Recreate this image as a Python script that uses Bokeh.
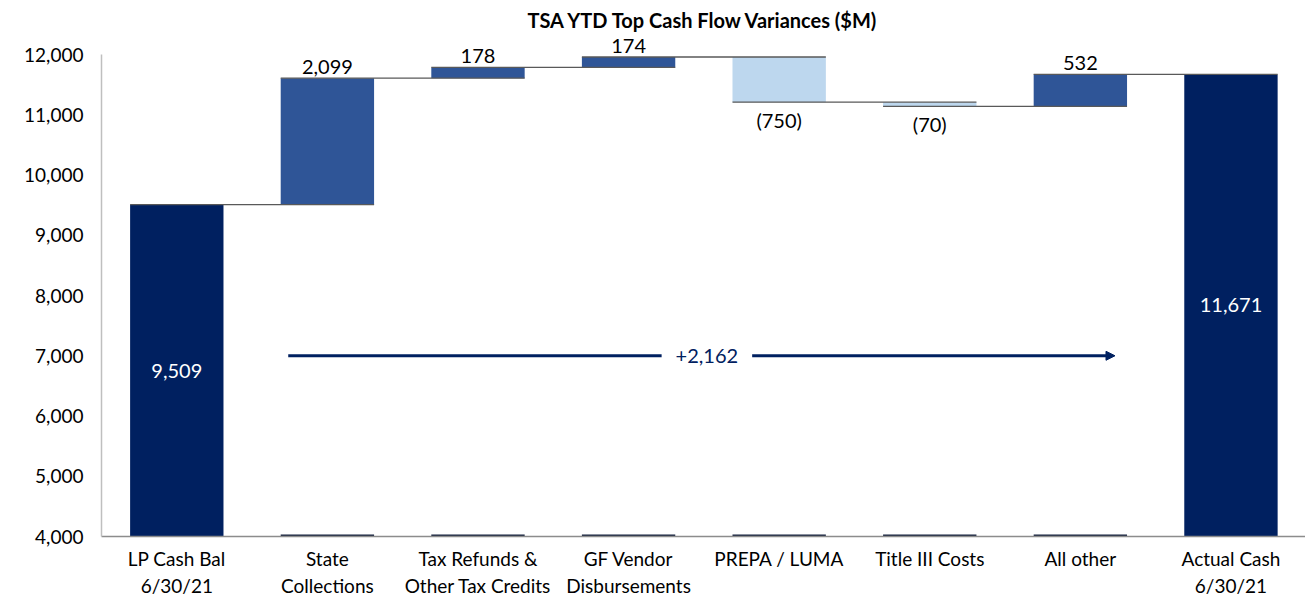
from bokeh.plotting import figure
from bokeh.models import FixedTicker, Range1d, Arrow, NormalHead, Label, NumeralTickFormatter
from bokeh.core.properties import value
from bokeh.embed import file_html
from bokeh.resources import INLINE

# ---- data ----
categories = ["LP Cash Bal\n6/30/21", "State\nCollections", "Tax Refunds &\nOther Tax Credits",
              "GF Vendor\nDisbursements", "PREPA / LUMA", "Title III Costs", "All other",
              "Actual Cash\n6/30/21"]
start_value = 9509
changes = [2099, 178, 174, -750, -70, 532]
end_value = 11671
y_ticks = [4000, 5000, 6000, 7000, 8000, 9000, 10000, 11000, 12000]
y_min, y_max = 4000, 12000

# ---- derived geometry ----
NAVY = "#002060"
POS = "#2F5597"
NEG = "#BDD7EE"
FONT = "Lato"
W = 0.62

n = len(categories)
xs = list(range(n))
bottoms, tops, colors = [], [], []
bottoms.append(y_min); tops.append(start_value); colors.append(NAVY)
levels = [start_value]
cum = start_value
for c in changes:
    nxt = cum + c
    bottoms.append(min(cum, nxt)); tops.append(max(cum, nxt))
    colors.append(POS if c >= 0 else NEG)
    cum = nxt
    levels.append(cum)
bottoms.append(y_min); tops.append(end_value); colors.append(NAVY)

p = figure(width=1305, height=600, output_backend="svg", toolbar_location=None,
           x_range=Range1d(-0.5, 7.495), y_range=Range1d(y_min, 12300),
           title="TSA YTD Top Cash Flow Variances ($M)",
           min_border_left=101, min_border_right=0, min_border_top=0, min_border_bottom=0)
p.outline_line_color = None
p.grid.visible = False
p.background_fill_color = "white"
p.border_fill_color = "white"

p.title.align = "center"
p.title.text_font = FONT
p.title.text_font_size = "20px"
p.title.text_font_style = "bold"
p.title.text_color = "black"
p.title.offset = 0

p.vbar(x=xs, bottom=bottoms, top=tops, width=W, fill_color=colors, line_color=None)

# connector lines
cx0 = [i - W / 2 for i in range(len(levels))]
cx1 = [i + 1 + W / 2 for i in range(len(levels))]
p.segment(x0=cx0, x1=cx1, y0=levels, y1=levels, line_color="#595959", line_width=1.3)

# bottom markers under floating bars
mx0 = [i - W / 2 for i in range(1, n - 1)]
mx1 = [i + W / 2 for i in range(1, n - 1)]
p.segment(x0=mx0, x1=mx1, y0=[y_min] * len(mx0), y1=[y_min] * len(mx0),
          line_color="#14213d", line_width=4)

# change labels
for i, c in enumerate(changes, start=1):
    if c >= 0:
        p.text(x=[i], y=[tops[i]], text=[f"{c:,}"], text_align="center", text_baseline="bottom",
               y_offset=-4, text_font=value(FONT), text_font_size="20px", text_color="black")
    else:
        p.text(x=[i], y=[bottoms[i]], text=[f"({abs(c):,})"], text_align="center", text_baseline="top",
               y_offset=6, text_font=value(FONT), text_font_size="20px", text_color="black")

# totals inside bars
for i, v in [(0, start_value), (n - 1, end_value)]:
    p.text(x=[i], y=[(y_min + v) / 2], text=[f"{v:,}"], text_align="center", text_baseline="middle",
           text_font=value(FONT), text_font_size="20px", text_color="white")

# arrow
arrow_y = 7000
p.add_layout(Arrow(x_start=0.74, y_start=arrow_y, x_end=6.23, y_end=arrow_y,
                   line_color=NAVY, line_width=3,
                   end=NormalHead(size=9, fill_color=NAVY, line_color=NAVY)))
p.add_layout(Label(x=3.52, y=arrow_y, text=f"+{end_value - start_value:,}", text_align="center",
                   text_baseline="middle", text_font=FONT, text_font_size="20px", text_color=NAVY,
                   background_fill_color="white", padding=14))

# axes
p.yaxis.ticker = FixedTicker(ticks=y_ticks)
p.yaxis.formatter = NumeralTickFormatter(format="0,0")
p.yaxis.bounds = (y_min, y_max)
p.yaxis.axis_line_color = "#bfbfbf"
p.yaxis.axis_line_width = 1.5
p.yaxis.major_tick_line_color = None
p.yaxis.minor_tick_line_color = None
p.yaxis.major_tick_out = 0
p.yaxis.major_tick_in = 0
p.yaxis.major_label_text_font = FONT
p.yaxis.major_label_text_font_size = "19px"
p.yaxis.major_label_text_color = "black"
p.yaxis.major_label_standoff = 18

p.xaxis.ticker = FixedTicker(ticks=xs)
p.xaxis.major_label_overrides = {i: c for i, c in enumerate(categories)}
p.xaxis.axis_line_color = "#8c8c8c"
p.xaxis.axis_line_width = 1.3
p.xaxis.major_tick_line_color = None
p.xaxis.minor_tick_line_color = None
p.xaxis.major_tick_out = 0
p.xaxis.major_tick_in = 0
p.xaxis.major_label_text_font = FONT
p.xaxis.major_label_text_font_size = "19px"
p.xaxis.major_label_text_color = "black"
p.xaxis.major_label_standoff = 10

open("out.html", "w").write(file_html(p, INLINE))
